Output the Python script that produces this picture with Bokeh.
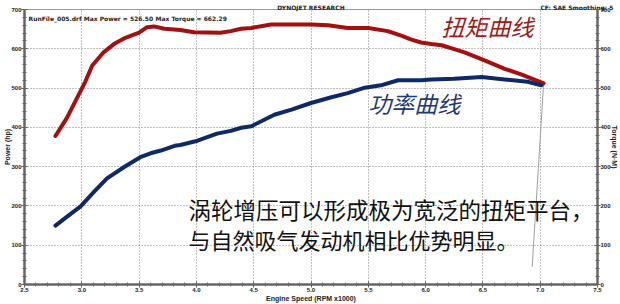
import math
from bokeh.plotting import figure
from bokeh.models import (LinearAxis, SingleIntervalTicker, FixedTicker, PrintfTickFormatter, Label)
from bokeh.embed import file_html
from bokeh.resources import INLINE

# ---- data ----
rpm_torque = [2.77, 2.87, 2.95, 3.03, 3.09, 3.19, 3.28, 3.38, 3.50, 3.57, 3.63, 3.72,
              3.86, 3.98, 4.21, 4.30, 4.39, 4.48, 4.65, 4.80, 5.00, 5.15, 5.32, 5.50,
              5.67, 5.80, 5.87, 5.96, 6.05, 6.14, 6.25, 6.34, 6.52, 6.69, 6.84, 7.03]
torque = [378, 424, 470, 516, 557, 591, 612, 628, 641, 655, 657, 651,
          648, 642, 641, 645, 651, 653, 662, 662, 662, 660, 653, 653,
          645, 632, 624, 616, 612, 609, 599, 591, 570, 549, 534, 512]

rpm_power = [2.77, 2.86, 2.99, 3.11, 3.22, 3.37, 3.51, 3.60, 3.69, 3.81, 3.86, 4.01,
             4.18, 4.30, 4.39, 4.48, 4.68, 4.83, 5.00, 5.17, 5.32, 5.47, 5.61, 5.76,
             5.96, 6.05, 6.25, 6.49, 6.69, 6.89, 7.01]
power = [150, 170, 199, 237, 270, 299, 324, 334, 341, 353, 355, 366,
         384, 391, 399, 403, 432, 445, 462, 476, 487, 501, 507, 520,
         520, 522, 524, 528, 522, 516, 507]

pointer_rpm = [7.03, 6.93]
pointer_val = [512, 45]

header_positions = [5.0, 7.33]
header_texts = ["DYNOJET RESEARCH", "CF: SAE  Smoothing: 5"]
run_text = "RunFile_005.drf Max Power = 526.50"
maxt_text = "Max Torque = 662.29"
x_label = "Engine Speed (RPM x1000)"
yl_label = "Power (hp)"
yr_label = "Torque (N\u00b7M)"
torque_name = "扭矩曲线"
power_name = "功率曲线"
note1 = "涡轮增压可以形成极为宽泛的扭矩平台，"
note2 = "与自然吸气发动机相比优势明显。"

SMALL = "Liberation Sans"
HEAD = "DejaVu Sans"
CJK = "Noto Sans CJK SC"

p = figure(width=620, height=304, x_range=(2.5, 7.5), y_range=(0, 700),
           output_backend="svg", toolbar_location=None,
           min_border_left=24, min_border_right=23, min_border_top=8, min_border_bottom=16)
p.background_fill_color = "white"
p.border_fill_color = "white"
p.outline_line_color = "#9a9a9a"
p.outline_line_width = 1

xt = SingleIntervalTicker(interval=0.5, num_minor_ticks=5)
yt = SingleIntervalTicker(interval=100, num_minor_ticks=5)
p.xaxis.ticker = xt
p.yaxis.ticker = yt
p.xaxis.formatter = PrintfTickFormatter(format="%.1f")

ra = LinearAxis(ticker=SingleIntervalTicker(interval=100, num_minor_ticks=5))
p.add_layout(ra, "right")

for ax in [p.xaxis[0], p.yaxis[0], ra]:
    ax.axis_line_color = "#666666"
    ax.axis_line_width = 2.5
    ax.major_tick_line_color = "#555555"
    ax.minor_tick_line_color = "#666666"
    ax.major_tick_in = 3
    ax.major_tick_out = 3
    ax.minor_tick_in = 2
    ax.minor_tick_out = 2
    ax.major_label_standoff = 0
    ax.major_label_text_font = SMALL
    ax.major_label_text_font_style = "bold"
    ax.major_label_text_font_size = "6px"
    ax.major_label_text_color = "#222222"
    ax.axis_label_standoff = -3
    ax.axis_label_text_font = SMALL
    ax.axis_label_text_font_style = "bold"
    ax.axis_label_text_font_size = "7px"
    ax.axis_label_text_color = "#222222"

p.xaxis[0].axis_label_standoff = 0
p.xaxis[0].axis_label = x_label
p.yaxis[0].axis_label = yl_label
ra.axis_label = yr_label

# header texts shown through an axis above the frame
top = LinearAxis(ticker=FixedTicker(ticks=header_positions),
                 major_label_overrides={v: t for v, t in zip(header_positions, header_texts)})
top.axis_line_color = None
top.major_tick_line_color = None
top.minor_tick_line_color = None
top.major_tick_out = 0
top.major_tick_in = 0
top.major_label_standoff = -1
top.major_label_text_font = HEAD
top.major_label_text_font_style = "bold"
top.major_label_text_font_size = "6px"
top.major_label_text_color = "#222222"
p.add_layout(top, "above")

for g in [p.xgrid[0], p.ygrid[0]]:
    g.grid_line_color = "#808080"
    g.grid_line_dash = "1 2"
    g.grid_line_width = 1
p.ygrid[0].ticker = yt
p.xgrid[0].ticker = xt

# curves
p.line(pointer_rpm, pointer_val, line_color="#a0a0a0", line_width=1)
p.line(rpm_torque, torque, line_color="#A50F0F", line_width=4, line_join="round", line_cap="round")
p.line(rpm_power, power, line_color="#0E2A66", line_width=4, line_join="round", line_cap="round")

def lab(x, y, text, size, font=SMALL, style="bold", color="#222222", align="left",
        baseline="middle", angle=0.0):
    p.add_layout(Label(x=x, y=y, text=text, text_font=font, text_font_size=size,
                       text_font_style=style, text_color=color, text_align=align,
                       text_baseline=baseline, angle=angle))

lab(2.535, 677, run_text, "6px", font=HEAD)
lab(3.643, 677, maxt_text, "6px", font=HEAD)

lab(6.139, 658, torque_name, "23px", font=CJK, style="italic", color="#A01818")
lab(5.50, 462, power_name, "23px", font=CJK, style="italic", color="#1C3A78")
lab(3.931, 192, note1, "22.5px", font=CJK, style="normal", color="#111111")
lab(3.931, 117, note2, "22px", font=CJK, style="normal", color="#111111")

open("out.html", "w").write(file_html(p, INLINE))
